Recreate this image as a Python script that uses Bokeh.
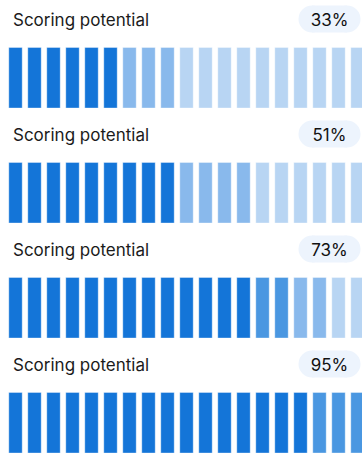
from bokeh.plotting import figure
from bokeh.models import Range1d, ColumnDataSource
from bokeh.core.properties import value
from bokeh.embed import file_html
from bokeh.resources import INLINE

# ---- data ----
labels = ["Scoring potential", "Scoring potential", "Scoring potential", "Scoring potential"]
percents = [33, 51, 73, 95]
dark_counts = [6, 9, 13, 16]
middark_counts = [0, 0, 2, 3]
mid_counts = [3, 4, 2, 0]
n_bars = 19

# ---- styles ----
C_DARK = "#1475d8"
C_MIDDARK = "#4a97e1"
C_MID = "#89b9ec"
C_LIGHT = "#b8d5f3"
PILL = "#edf4fd"
FONT = "Inter"

W, H = 362, 454
PITCH = 19.0
X0 = -0.3526 - 8.3 / PITCH
ROW = 115
BASE = 19

p = figure(width=W, height=H, x_range=Range1d(X0, X0 + W / PITCH), y_range=Range1d(H, 0),
           output_backend="svg", toolbar_location=None, min_border=0)
p.axis.visible = False
p.grid.visible = False
p.outline_line_color = None
p.background_fill_color = "white"


def fx(px):
    return X0 + px / PITCH


left, right, top, bottom, color = [], [], [], [], []
for r in range(len(percents)):
    d, md, m = dark_counts[r], middark_counts[r], mid_counts[r]
    for i in range(n_bars):
        if i < d:
            c = C_DARK
        elif i < d + md:
            c = C_MIDDARK
        elif i < d + md + m:
            c = C_MID
        else:
            c = C_LIGHT
        left.append(i - 0.3526)
        right.append(i + 0.3526)
        top.append(47 + ROW * r)
        bottom.append(107.5 + ROW * r)
        color.append(c)

src = ColumnDataSource(dict(left=left, right=right, top=top, bottom=bottom, color=color))
p.quad(left="left", right="right", top="top", bottom="bottom", fill_color="color",
       line_color="white", line_alpha=0.35, line_width=1, source=src)

# titles
ys_title = [BASE + ROW * r for r in range(len(labels))]
p.text(x=[fx(12.5)] * len(labels), y=ys_title, text=labels, text_font=value(FONT),
       text_font_size="17px", text_color="#1b1b1b", text_baseline="alphabetic", text_align="left")

# pills
PCX = 329
pill_cx = fx(PCX)
ys_pill = [18.5 + ROW * r for r in range(len(percents))]
p.rect(x=[pill_cx] * len(percents), y=ys_pill, width=35, height=27, width_units="screen",
       height_units="screen", fill_color=PILL, line_color=None)
p.scatter(x=[fx(PCX - 17.5)] * len(percents), y=ys_pill, size=27, marker="circle",
          fill_color=PILL, line_color=None)
p.scatter(x=[fx(PCX + 17.5)] * len(percents), y=ys_pill, size=27, marker="circle",
          fill_color=PILL, line_color=None)
p.text(x=[pill_cx] * len(percents), y=[BASE + ROW * r for r in range(len(percents))],
       text=[f"{v}%" for v in percents], text_font=value(FONT), text_font_size="17px",
       text_color="#111111", text_align="center", text_baseline="alphabetic")

open("out.html", "w").write(file_html(p, INLINE))
